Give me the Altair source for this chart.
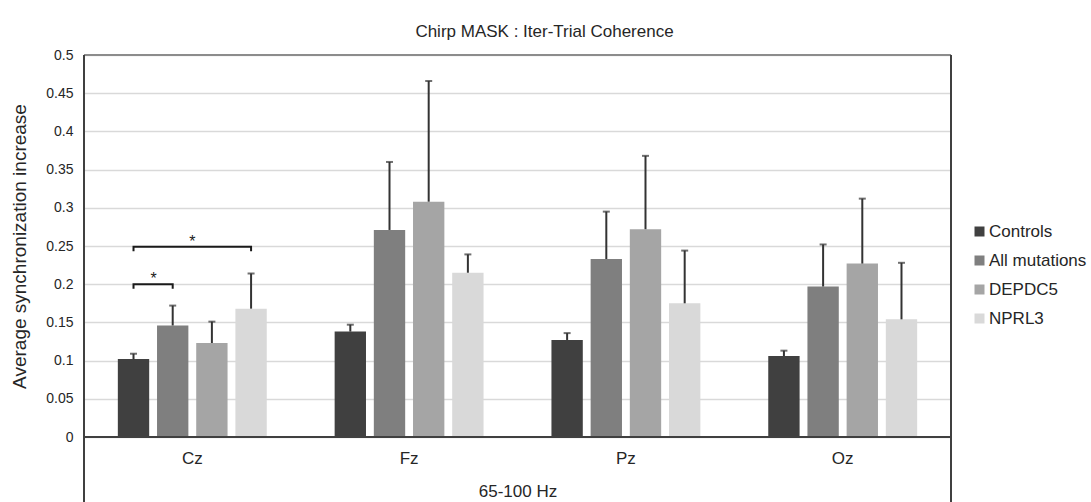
import altair as alt
import pandas as pd

# Electrodes on the x axis and the four subject groups
electrodes = ["Cz", "Fz", "Pz", "Oz"]
groups = ["Controls", "All mutations", "DEPDC5", "NPRL3"]
colors = ["#404040", "#7f7f7f", "#a5a5a5", "#d9d9d9"]

# Mean synchronization increase per group, in electrode order
controls = [0.102, 0.138, 0.127, 0.106]
all_mutations = [0.146, 0.271, 0.233, 0.197]
depdc5 = [0.123, 0.308, 0.272, 0.227]
nprl3 = [0.168, 0.215, 0.175, 0.154]

# Upper error (SEM) per group, in electrode order
controls_err = [0.007, 0.009, 0.009, 0.007]
all_mutations_err = [0.026, 0.089, 0.062, 0.055]
depdc5_err = [0.028, 0.158, 0.096, 0.085]
nprl3_err = [0.046, 0.024, 0.069, 0.074]

# Significance brackets on Cz: (from group, to group, height)
brackets = [("Controls", "All mutations", 0.200), ("Controls", "NPRL3", 0.249)]
bracket_drop = 0.006

y_ticks = [0, 0.05, 0.1, 0.15, 0.2, 0.25, 0.3, 0.35, 0.4, 0.45, 0.5]

means = [controls, all_mutations, depdc5, nprl3]
errs = [controls_err, all_mutations_err, depdc5_err, nprl3_err]
rows = []
for g, m, e in zip(groups, means, errs):
    for el, v, s in zip(electrodes, m, e):
        rows.append({"electrode": el, "group": g, "mean": v, "upper": round(v + s, 4)})
df = pd.DataFrame(rows)

brows = []
for i, (g1, g2, h) in enumerate(brackets):
    pts = [(g1, h - bracket_drop), (g1, h), (g2, h), (g2, h - bracket_drop)]
    for k, (g, yv) in enumerate(pts):
        brows.append({"electrode": "Cz", "group": g, "y": yv, "k": k, "pair": i})
bdf = pd.DataFrame(brows)

W, H = 867, 382
FONT = "Liberation Sans"
TXT = "#262626"
FRAME = "#404040"

x_axis = alt.Axis(title="65-100 Hz", labelAngle=0, labelFontSize=17,
                  titleFontSize=17, titleFontWeight="normal",
                  labelPadding=13, titlePadding=17, ticks=False,
                  domain=False, labelColor=TXT, titleColor=TXT,
                  labelFont=FONT, titleFont=FONT)
y_axis = alt.Axis(title="Average synchronization increase", values=y_ticks,
                  format="~g", grid=True, gridColor="#d9d9d9", gridWidth=1.5,
                  labelOverlap=False, ticks=False, domain=False,
                  labelFontSize=14, labelPadding=11,
                  titleFontSize=19, titleFontWeight="normal", titlePadding=16,
                  labelColor=TXT, titleColor=TXT, labelFont=FONT, titleFont=FONT)
x_scale = alt.Scale(domain=electrodes, paddingInner=0.277, paddingOuter=0.138)
xo_scale = alt.Scale(domain=groups, paddingInner=0.2, paddingOuter=0.1)
y_scale = alt.Scale(domain=[0, 0.5], nice=False)


def xe():
    return alt.X("electrode:N", sort=electrodes, scale=x_scale, axis=x_axis)


def xoe():
    return alt.XOffset("group:N", sort=groups, scale=xo_scale)


def ye(field):
    return alt.Y(f"{field}:Q", scale=y_scale, axis=y_axis)


bars = alt.Chart(df).mark_bar().encode(
    x=xe(),
    xOffset=xoe(),
    y=ye("mean"),
    color=alt.Color("group:N", sort=groups,
                    scale=alt.Scale(domain=groups, range=colors),
                    legend=alt.Legend(title=None, orient="none", legendX=887, legendY=168,
                                      symbolType="square", symbolSize=100,
                                      symbolStrokeWidth=0, labelFontSize=17,
                                      labelFont=FONT, labelColor=TXT, rowPadding=11,
                                      labelOffset=1)),
)

err_rule = alt.Chart(df).mark_rule(color="#333333", strokeWidth=2).encode(
    x=xe(), xOffset=xoe(), y=ye("mean"), y2="upper:Q",
)

err_cap = alt.Chart(df).mark_tick(color="#333333", thickness=2, size=7).encode(
    x=xe(), xOffset=xoe(), y=ye("upper"),
)

bracket_lines = alt.Chart(bdf).mark_line(color="#1a1a1a", strokeWidth=2,
                                         strokeJoin="miter", interpolate="linear").encode(
    x=xe(), xOffset=xoe(), y=ye("y"), detail="pair:N", order="k:Q",
)

stars_df = pd.DataFrame([
    {"electrode": "Cz", "group": "Controls", "y": brackets[0][2], "t": "*"},
])
star_near = alt.Chart(stars_df).mark_text(fontSize=16, font=FONT, color="#1a1a1a",
                                          dx=20, dy=3, baseline="bottom").encode(
    x=xe(), xOffset=xoe(), y=ye("y"), text="t:N",
)
stars_far = pd.DataFrame([{"electrode": "Cz", "y": brackets[1][2], "t": "*"}])
star_wide = alt.Chart(stars_far).mark_text(fontSize=16, font=FONT, color="#1a1a1a",
                                           dy=3, baseline="bottom").encode(
    x=xe(), y=ye("y"), text="t:N",
)

# Plot frame: dark sides running down past the category labels, dark baseline,
# lighter top edge
frame_left = alt.Chart(df).mark_rule(color=FRAME, strokeWidth=2).encode(
    x=alt.value(0), y=alt.value(0), y2=alt.value(H + 70))
frame_right = alt.Chart(df).mark_rule(color=FRAME, strokeWidth=2).encode(
    x=alt.value(W), y=alt.value(0), y2=alt.value(H + 70))
frame_base = alt.Chart(df).mark_rule(color=FRAME, strokeWidth=2).encode(
    x=alt.value(0), x2=alt.value(W), y=alt.value(H))
frame_top = alt.Chart(df).mark_rule(color="#8c8c8c", strokeWidth=1.5).encode(
    x=alt.value(0), x2=alt.value(W), y=alt.value(0))

chart = alt.layer(
    bars, err_rule, err_cap, bracket_lines, star_near, star_wide,
    frame_top, frame_base, frame_left, frame_right
).properties(
    width=W, height=H,
    autosize=alt.AutoSizeParams(type="none"),
    padding={"left": 84, "top": 55, "right": 140, "bottom": 65},
    title=alt.TitleParams("Chirp MASK : Iter-Trial Coherence", fontSize=17,
                          fontWeight="normal", font=FONT, color=TXT,
                          anchor="middle", dx=27, offset=7),
).configure(
    background="white"
).configure_view(
    stroke=None
)

chart.save("out.html", embed_options={"renderer": "svg", "actions": False})
